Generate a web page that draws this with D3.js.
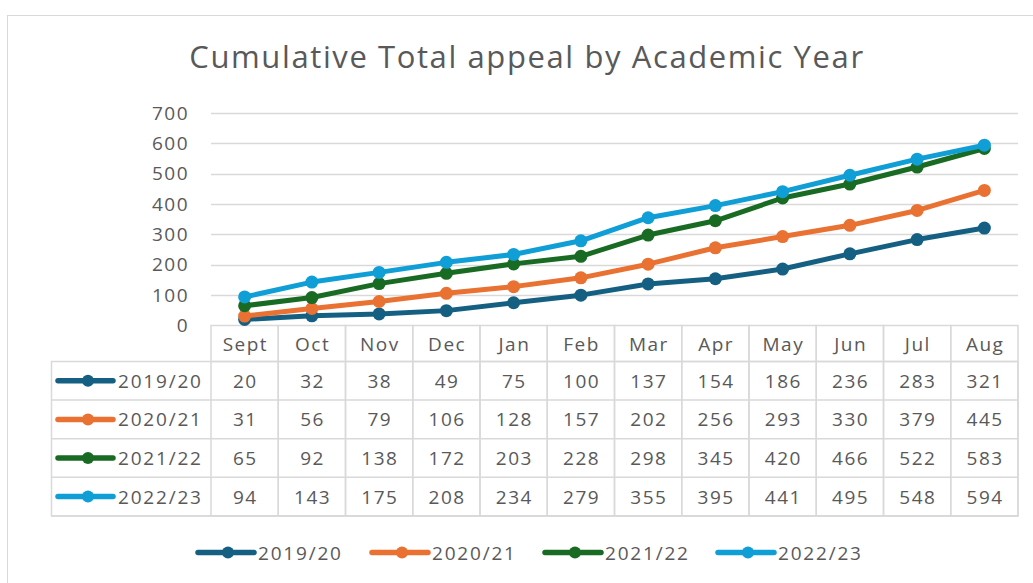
<!DOCTYPE html>
<html>
<head>
<meta charset="utf-8">
<script src="https://cdn.jsdelivr.net/npm/d3@7"></script>
<style>
  html, body { margin: 0; padding: 0; background: #fff; }
  svg { display: block; font-family: "Open Sans", sans-serif; }
</style>
</head>
<body>
<svg width="1033" height="583"></svg>
<script>
// chart data
const months = ["Sept", "Oct", "Nov", "Dec", "Jan", "Feb", "Mar", "Apr", "May", "Jun", "Jul", "Aug"];
const years = ["2019/20", "2020/21", "2021/22", "2022/23"];
const y2019 = [20, 32, 38, 49, 75, 100, 137, 154, 186, 236, 283, 321];
const y2020 = [31, 56, 79, 106, 128, 157, 202, 256, 293, 330, 379, 445];
const y2021 = [65, 92, 138, 172, 203, 228, 298, 345, 420, 466, 522, 583];
const y2022 = [94, 143, 175, 208, 234, 279, 355, 395, 441, 495, 548, 594];
const yTicks = [0, 100, 200, 300, 400, 500, 600, 700];
const colors = ["#156082", "#e97132", "#196b24", "#0f9ed5"];

const series = years.map((name, i) => ({ name, color: colors[i], values: [y2019, y2020, y2021, y2022][i] }));

const svg = d3.select("svg");
const textColor = "#595959";
const gridColor = "#d9d9d9";
const fontSize = 19, spacing = 1.5;

// outer chart border
svg.append("rect")
    .attr("x", 7.5).attr("y", 15.5)
    .attr("width", 1040).attr("height", 600)
    .attr("fill", "none").attr("stroke", gridColor);

// title
svg.append("text")
    .attr("x", 527).attr("y", 68)
    .attr("text-anchor", "middle")
    .attr("font-size", 31)
    .attr("letter-spacing", 1.6)
    .attr("fill", textColor)
    .text("Cumulative Total appeal by Academic Year");

// scales
const left = 211, right = 1018;
const x = d3.scaleBand().domain(months).range([left, right]);
const y = d3.scaleLinear().domain([0, 700]).range([325.5, 113]);
const cx = i => x(months[i]) + x.bandwidth() / 2;

// gridlines
svg.append("g")
    .selectAll("line")
    .data(yTicks.slice(1))
    .join("line")
    .attr("x1", left).attr("x2", right)
    .attr("y1", d => Math.round(y(d)) + 0.5).attr("y2", d => Math.round(y(d)) + 0.5)
    .attr("stroke", gridColor).attr("stroke-width", 1.5);

// y axis labels
const yAxis = svg.append("g")
    .attr("transform", `translate(${left - 4},0)`)
    .call(d3.axisLeft(y).tickValues(yTicks).tickSize(0).tickPadding(18));
yAxis.select(".domain").remove();
yAxis.selectAll("text")
    .attr("font-size", fontSize).attr("fill", textColor)
    .attr("letter-spacing", spacing)
    .attr("font-family", "Open Sans, sans-serif");

// data table
const tableTop = 325.5, headH = 36, rowH = 38.6, tableLeft = 51.5;
const tbl = svg.append("g").attr("stroke", gridColor).attr("stroke-width", 1.5).attr("fill", "none");

tbl.selectAll(".hcell")
    .data(months)
    .join("rect")
    .attr("x", d => x(d)).attr("y", tableTop)
    .attr("width", x.bandwidth()).attr("height", headH + rowH * years.length);
tbl.append("rect")
    .attr("x", tableLeft).attr("y", tableTop + headH)
    .attr("width", right - tableLeft).attr("height", rowH * years.length);
tbl.selectAll(".hline")
    .data(d3.range(0, years.length + 1))
    .join("line")
    .attr("x1", d => d === 0 ? left : tableLeft).attr("x2", right)
    .attr("y1", d => tableTop + headH + d * rowH).attr("y2", d => tableTop + headH + d * rowH);

svg.append("g")
    .selectAll("text")
    .data(months)
    .join("text")
    .attr("x", d => x(d) + x.bandwidth() / 2 + spacing / 2)
    .attr("y", tableTop + headH / 2 + 7)
    .attr("text-anchor", "middle")
    .attr("font-size", fontSize).attr("fill", textColor)
    .attr("letter-spacing", spacing)
    .text(d => d);

const rows = svg.append("g")
    .selectAll("g")
    .data(series)
    .join("g")
    .attr("transform", (d, i) => `translate(0,${tableTop + headH + i * rowH + rowH / 2})`);

rows.append("line")
    .attr("x1", 58).attr("x2", 113)
    .attr("stroke", d => d.color).attr("stroke-width", 5.5).attr("stroke-linecap", "round");
rows.append("circle")
    .attr("cx", 88).attr("r", 6).attr("fill", d => d.color);
rows.append("text")
    .attr("x", 118).attr("y", 7)
    .attr("font-size", fontSize).attr("fill", textColor)
    .attr("letter-spacing", 1.8)
    .text(d => d.name);
rows.selectAll(".val")
    .data(d => d.values)
    .join("text")
    .attr("x", (d, i) => cx(i) + spacing / 2)
    .attr("y", 7)
    .attr("text-anchor", "middle")
    .attr("font-size", fontSize).attr("fill", textColor)
    .attr("letter-spacing", spacing)
    .text(d => d);

// lines and markers
const line = d3.line()
    .x((d, i) => cx(i))
    .y(d => y(d));

const lines = svg.append("g")
    .selectAll("g")
    .data(series)
    .join("g");

lines.append("path")
    .attr("d", d => line(d.values))
    .attr("fill", "none")
    .attr("stroke", d => d.color)
    .attr("stroke-width", 5)
    .attr("stroke-linejoin", "round").attr("stroke-linecap", "round");

lines.selectAll("circle")
    .data(d => d.values.map(v => ({ v, color: d.color })))
    .join("circle")
    .attr("cx", (d, i) => cx(i))
    .attr("cy", d => y(d.v))
    .attr("r", 6.5)
    .attr("fill", d => d.color);

// legend
const legendX = [198, 372, 545, 718];
const legend = svg.append("g")
    .selectAll("g")
    .data(series)
    .join("g")
    .attr("transform", (d, i) => `translate(${legendX[i]},552.5)`);
legend.append("line")
    .attr("x1", 0).attr("x2", 56)
    .attr("stroke", d => d.color).attr("stroke-width", 5.5).attr("stroke-linecap", "round");
legend.append("circle")
    .attr("cx", 30).attr("r", 6).attr("fill", d => d.color);
legend.append("text")
    .attr("x", 60).attr("y", 7)
    .attr("font-size", fontSize).attr("fill", textColor)
    .attr("letter-spacing", 1.8)
    .text(d => d.name);
</script>
</body>
</html>
